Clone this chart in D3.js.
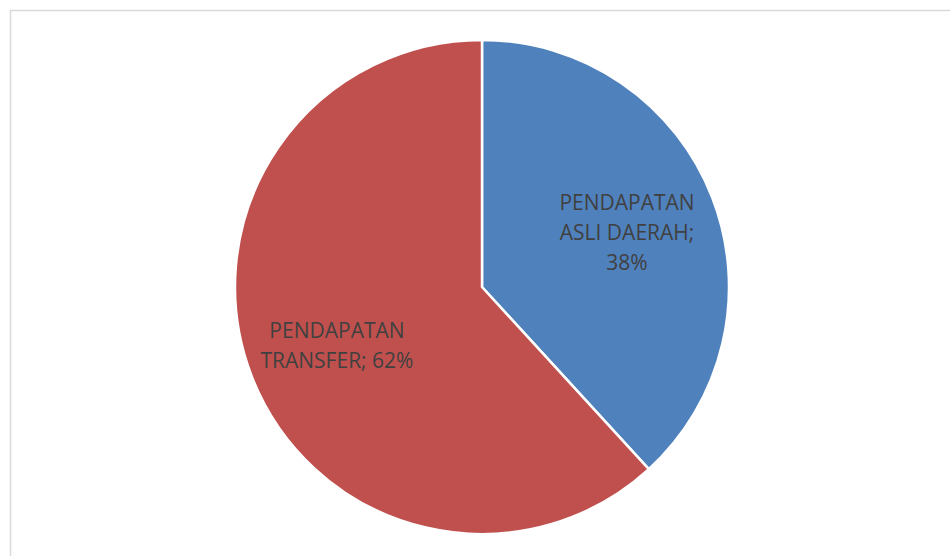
<!DOCTYPE html>
<html>
<head>
<meta charset="utf-8">
<script src="https://cdn.jsdelivr.net/npm/d3@7"></script>
<style>
  body { margin: 0; background: #fff; }
  svg { display: block; }
</style>
</head>
<body>
<div class="chart"></div>
<script>
// Pie slices, clockwise from 12 o'clock
const categories = ["PENDAPATAN ASLI DAERAH", "PENDAPATAN TRANSFER"];
const values = [38.2, 61.8];
const colors = ["#4F81BD", "#C0504D"];
// label lines as Excel wrapped them
const labelLines = [
  ["PENDAPATAN", "ASLI DAERAH;", "38%"],
  ["PENDAPATAN", "TRANSFER; 62%"]
];

const width = 950, height = 556;
const cx = 482, cy = 287, radius = 247;

const svg = d3.select("div.chart").append("svg")
  .attr("width", width)
  .attr("height", height);

// chart area frame (runs off right and bottom)
svg.append("rect")
  .attr("x", 10.5)
  .attr("y", 10.5)
  .attr("width", 960)
  .attr("height", 580)
  .attr("fill", "#fff")
  .attr("stroke", "#d9d9d9")
  .attr("stroke-width", 1.5);

const pie = d3.pie().sort(null).value(d => d)(values);
const arc = d3.arc().innerRadius(0).outerRadius(radius);
const labelArc = d3.arc().innerRadius(radius * 0.63).outerRadius(radius * 0.63);

const g = svg.append("g").attr("transform", `translate(${cx},${cy})`);

g.selectAll("path")
  .data(pie)
  .enter()
  .append("path")
  .attr("d", arc)
  .attr("fill", (d, i) => colors[i])
  .attr("stroke", "#fff")
  .attr("stroke-width", 2.5)
  .attr("stroke-linejoin", "round");

const lineHeight = 30;
const labels = g.selectAll("text.label")
  .data(pie)
  .enter()
  .append("text")
  .attr("class", "label")
  .attr("text-anchor", "middle")
  .style("font-family", "'Open Sans', sans-serif")
  .style("font-size", "21px")
  .attr("fill", "#404040")
  .attr("transform", d => {
    const [x, y] = labelArc.centroid(d);
    return `translate(${x},${y + 2})`;
  });

labels.each(function(d, i) {
  const lines = labelLines[i];
  const t = d3.select(this);
  const offset = -((lines.length - 1) * lineHeight) / 2;
  lines.forEach((line, k) => {
    t.append("tspan")
      .attr("x", 0)
      .attr("y", offset + k * lineHeight)
      .attr("dy", "0.35em")
      .text(line);
  });
});
</script>
</body>
</html>
